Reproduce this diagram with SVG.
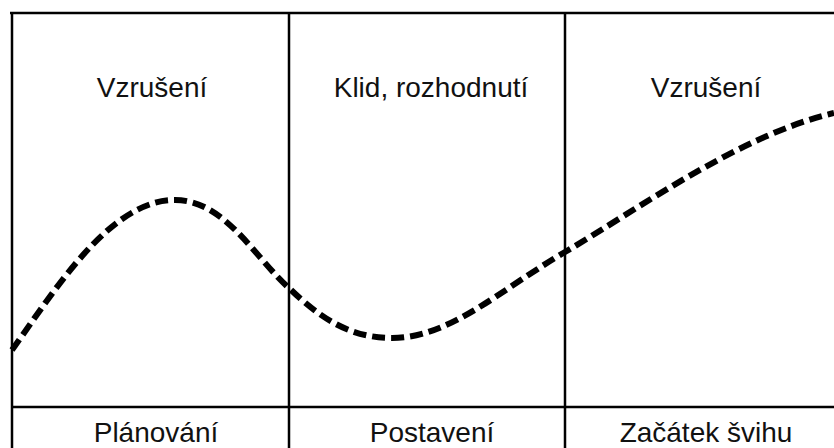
<svg xmlns="http://www.w3.org/2000/svg" width="834" height="448" viewBox="0 0 834 448">
<style>
.frame{stroke:#000;stroke-width:2.5;fill:none}
.lbl{font-family:"Liberation Sans",Arial,sans-serif;font-size:28px;fill:#111;text-anchor:middle}
.curve{stroke:#000;stroke-width:6;fill:none;stroke-dasharray:13 6}
</style>
<rect width="834" height="448" fill="#fff"/>
<g id="grid">
<line class="frame" x1="10" y1="13" x2="834" y2="13"/>
<line class="frame" x1="12" y1="13" x2="12" y2="448"/>
<line class="frame" x1="289" y1="13" x2="289" y2="448"/>
<line class="frame" x1="565" y1="13" x2="565" y2="448"/>
<line class="frame" x1="12" y1="407" x2="834" y2="407"/>
</g>
<g id="col1">
<text class="lbl" x="152" y="97">Vzrušení</text>
<text class="lbl" x="156" y="442">Plánování</text>
</g>
<g id="col2">
<text class="lbl" x="431" y="97">Klid, rozhodnutí</text>
<text class="lbl" x="432" y="442">Postavení</text>
</g>
<g id="col3">
<text class="lbl" x="706" y="97">Vzrušení</text>
<text class="lbl" x="706" y="442">Začátek švihu</text>
</g>
<g id="connectors">
<path class="curve" d="M12,350 C55,290 110,200 175,200 C225,200 255,258 289,288 C320,318 350,338 392,338 C450,338 500,290 565,252 C640,208 740,135 834,113"/>
</g>
</svg>
